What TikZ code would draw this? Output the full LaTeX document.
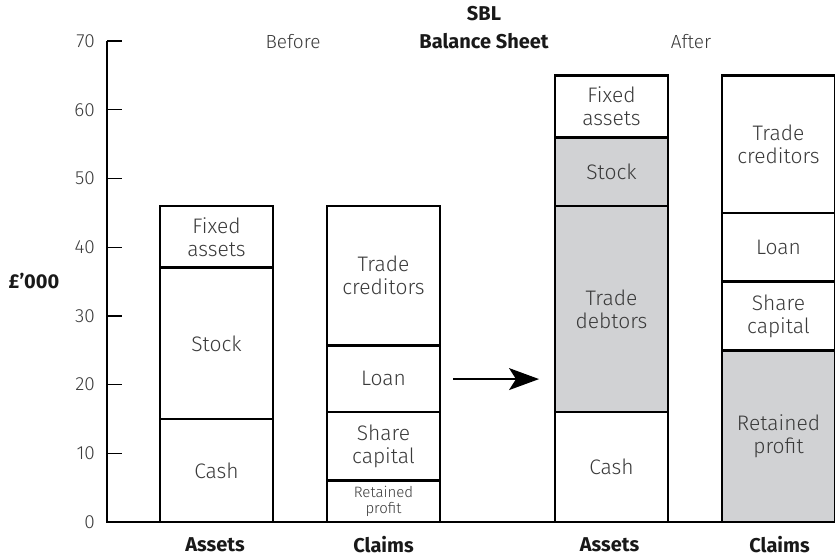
\documentclass[tikz,border=0pt]{standalone}
\usepackage{fontspec}
\setmainfont{Fira Sans}[UprightFont=* Light, BoldFont=* Bold]
\usetikzlibrary{arrows.meta}

\definecolor{txtgrey}{HTML}{3A3A3A}
\definecolor{shade}{HTML}{D1D2D4}

\begin{document}
\begin{tikzpicture}
  [x=1pt,y=6.87pt,
   every node/.style={font=\fontsize{19}{21}\selectfont,text=txtgrey},
   seg/.style={draw=black,line width=2.6pt,anchor=south west,minimum width=113pt,
     inner sep=0pt,outer sep=0pt,align=center,fill=white,
     font=\fontsize{21}{23}\selectfont},
   grey/.style={fill=shade},
   head/.style={font=\bfseries\fontsize{20}{22}\selectfont,text=black!90}]
  \useasboundingbox (0,-5.24) rectangle (835,75.98);

  % axis
  \coordinate (o) at (107,0);
  \coordinate (top) at (107,70);
  \coordinate (end) at (835,0);
  \draw[line width=1.3pt] (top) -- (o) -- (end);
  \foreach \v in {10,20,...,70}
    \draw[line width=1.3pt] (107,\v) -- (122,\v);
  \foreach \v in {0,10,...,70}
    \node[anchor=east,inner sep=0pt] (t\v) at (95,\v) {\v};

  % before
  \node[seg,minimum height={15*6.87pt}] (cash1) at (160,0) {Cash};
  \node[seg,minimum height={22*6.87pt}] (stock1) at (160,15) {Stock};
  \node[seg,minimum height={9*6.87pt}] (fixed1) at (160,37) {Fixed\\assets};

  \node[seg,minimum height={6*6.87pt},font=\fontsize{15}{16}\selectfont] (ret1) at (327,0) {Retained\\profit};
  \node[seg,minimum height={10*6.87pt}] (share1) at (327,6) {Share\\capital};
  \node[seg,minimum height={9.7*6.87pt}] (loan1) at (327,16) {Loan};
  \node[seg,minimum height={20.3*6.87pt}] (cred1) at (327,25.7) {Trade\\creditors};

  % after
  \node[seg,minimum height={16*6.87pt}] (cash2) at (555,0) {Cash};
  \node[seg,grey,minimum height={30*6.87pt}] (debt2) at (555,16) {Trade\\debtors};
  \node[seg,grey,minimum height={10*6.87pt}] (stock2) at (555,46) {Stock};
  \node[seg,minimum height={9*6.87pt}] (fixed2) at (555,56) {Fixed\\assets};

  \node[seg,grey,minimum height={25*6.87pt}] (ret2) at (722,0) {Retained\\profit};
  \node[seg,minimum height={10*6.87pt}] (share2) at (722,25) {Share\\capital};
  \node[seg,minimum height={10*6.87pt}] (loan2) at (722,35) {Loan};
  \node[seg,minimum height={20*6.87pt}] (cred2) at (722,45) {Trade\\creditors};

  % arrow
  \coordinate (from) at (453,20.8);
  \coordinate (to) at (539,20.8);
  \draw[line width=1.2pt,-{Stealth[length=30pt,width=22pt,inset=7pt]}] (from) -- (to);

  % labels
  \node[head] (sbl) at (484,73.94) {SBL};
  \node[head] (bs) at (484,70) {Balance Sheet};
  \node (before) at (293,70) {Before};
  \node (after) at (691,70) {After};
  \node[head] (unit) at (34,35.1) {£'000};
  \node[head] (as1) at (215,-3.35) {Assets};
  \node[head] (cl1) at (383.5,-3.35) {Claims};
  \node[head] (as2) at (609.5,-3.35) {Assets};
  \node[head] (cl2) at (779.5,-3.35) {Claims};
\end{tikzpicture}
\end{document}
